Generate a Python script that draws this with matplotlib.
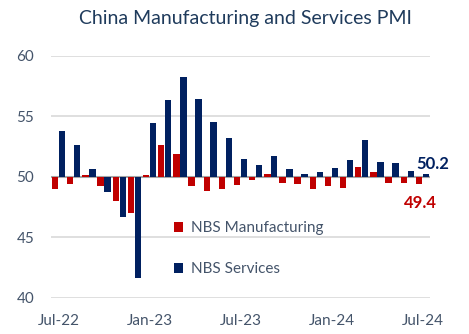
import matplotlib.pyplot as plt
import numpy as np

# Data
months = ["Jul-22", "Aug-22", "Sep-22", "Oct-22", "Nov-22", "Dec-22",
          "Jan-23", "Feb-23", "Mar-23", "Apr-23", "May-23", "Jun-23",
          "Jul-23", "Aug-23", "Sep-23", "Oct-23", "Nov-23", "Dec-23",
          "Jan-24", "Feb-24", "Mar-24", "Apr-24", "May-24", "Jun-24", "Jul-24"]
manufacturing = [49.0, 49.4, 50.1, 49.2, 48.0, 47.0,
                 50.1, 52.6, 51.9, 49.2, 48.8, 49.0,
                 49.3, 49.7, 50.2, 49.5, 49.4, 49.0,
                 49.2, 49.1, 50.8, 50.4, 49.5, 49.5, 49.4]
services = [53.8, 52.6, 50.6, 48.7, 46.7, 41.6,
            54.4, 56.3, 58.2, 56.4, 54.5, 53.2,
            51.5, 51.0, 51.7, 50.6, 50.2, 50.4,
            50.7, 51.4, 53.0, 51.2, 51.1, 50.5, 50.2]
tick_labels = ["Jul-22", "Jan-23", "Jul-23", "Jan-24", "Jul-24"]

red = '#C00000'
navy = '#002060'
text_col = '#44546A'

plt.rcParams['font.family'] = ['Lato', 'DejaVu Sans']

fig = plt.figure(figsize=(4.69, 3.34), dpi=100)
ax = fig.add_axes([51 / 469, 1 - 297.7 / 334, 379 / 469, 242 / 334])

x = np.arange(len(months))
base = 50
ax.bar(x - 0.23, np.array(manufacturing) - base, bottom=base, width=0.42,
       color=red, label='NBS Manufacturing', zorder=3)
ax.bar(x + 0.23, np.array(services) - base, bottom=base, width=0.42,
       color=navy, label='NBS Services', zorder=3)

ax.set_xlim(-0.5, len(months) - 0.5)
ax.set_ylim(40, 60)
ax.set_yticks([40, 45, 50, 55, 60])
ax.grid(axis='y', color='#D9D9D9', linewidth=1.2, zorder=0)
ax.axhline(base, color='#A6A6A6', linewidth=1.5, zorder=2)
for s in ax.spines.values():
    s.set_visible(False)
ax.tick_params(length=0, labelsize=11, labelcolor=text_col)
ax.tick_params(axis='y', pad=12)
ax.tick_params(axis='x', pad=12)
ax.set_xticks([months.index(m) for m in tick_labels])
ax.set_xticklabels(tick_labels)

# end-of-series labels
ax.text(len(months) - 0.3, services[-1] + 0.85, f'{services[-1]:.1f}', color=navy,
        fontsize=12, fontweight='bold', ha='center', va='center')
ax.text(len(months) - 1.1, manufacturing[-1] - 1.6, f'{manufacturing[-1]:.1f}', color=red,
        fontsize=12, fontweight='bold', ha='center', va='center')

ax.legend(loc='upper left', bbox_to_anchor=(0.288, 0.372), frameon=False,
          fontsize=11, labelcolor=text_col, handlelength=0.6, handleheight=0.6,
          handletextpad=0.5, labelspacing=1.75)

fig.suptitle('China Manufacturing and Services PMI', x=0.523, y=0.97,
             fontsize=14, color='#1F3B5C')

fig.savefig('out.png', dpi=100)
